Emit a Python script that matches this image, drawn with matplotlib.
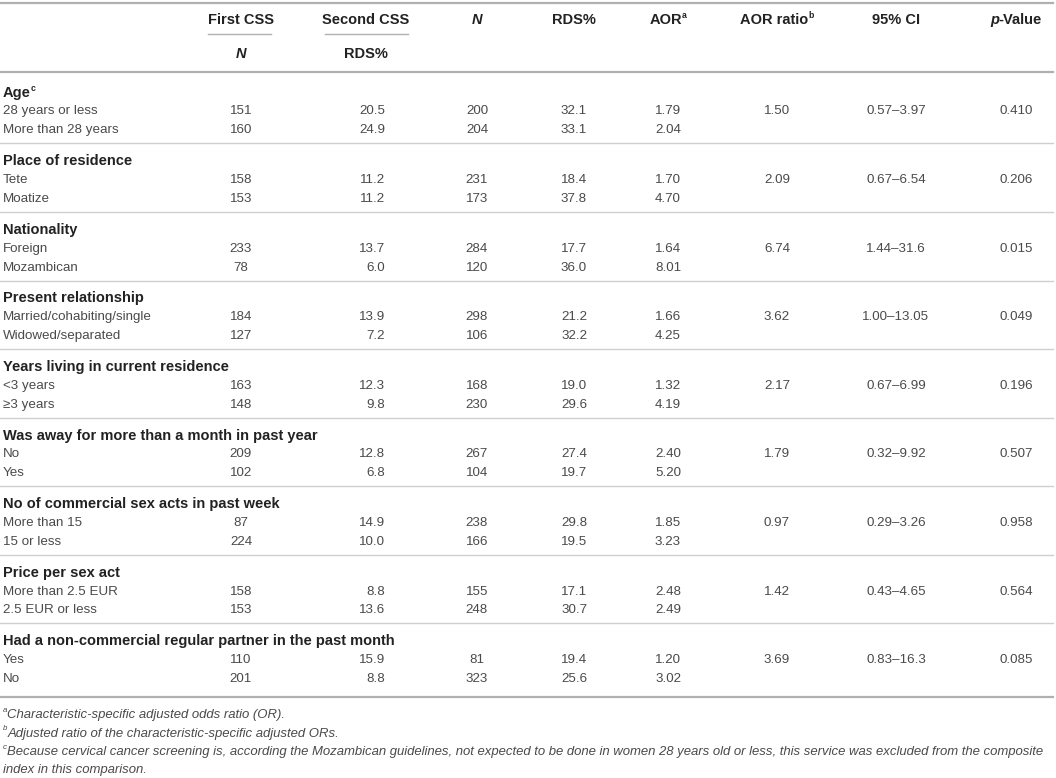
import matplotlib
matplotlib.use("Agg")
import matplotlib.pyplot as plt

# ---------------- data ----------------
groups = [
    "Age", "Place of residence", "Nationality", "Present relationship",
    "Years living in current residence",
    "Was away for more than a month in past year",
    "No of commercial sex acts in past week", "Price per sex act",
    "Had a non-commercial regular partner in the past month",
]
group_sup = ["c", "", "", "", "", "", "", "", ""]
row_labels = [
    ["28 years or less", "More than 28 years"],
    ["Tete", "Moatize"],
    ["Foreign", "Mozambican"],
    ["Married/cohabiting/single", "Widowed/separated"],
    ["<3 years", "\u22653 years"],
    ["No", "Yes"],
    ["More than 15", "15 or less"],
    ["More than 2.5 EUR", "2.5 EUR or less"],
    ["Yes", "No"],
]
first_n = [[151, 160], [158, 153], [233, 78], [184, 127], [163, 148],
           [209, 102], [87, 224], [158, 153], [110, 201]]
first_rds = [["20.5", "24.9"], ["11.2", "11.2"], ["13.7", "6.0"], ["13.9", "7.2"],
             ["12.3", "9.8"], ["12.8", "6.8"], ["14.9", "10.0"], ["8.8", "13.6"],
             ["15.9", "8.8"]]
second_n = [[200, 204], [231, 173], [284, 120], [298, 106], [168, 230],
            [267, 104], [238, 166], [155, 248], [81, 323]]
second_rds = [["32.1", "33.1"], ["18.4", "37.8"], ["17.7", "36.0"], ["21.2", "32.2"],
              ["19.0", "29.6"], ["27.4", "19.7"], ["29.8", "19.5"], ["17.1", "30.7"],
              ["19.4", "25.6"]]
aor = [["1.79", "2.04"], ["1.70", "4.70"], ["1.64", "8.01"], ["1.66", "4.25"],
       ["1.32", "4.19"], ["2.40", "5.20"], ["1.85", "3.23"], ["2.48", "2.49"],
       ["1.20", "3.02"]]
aor_ratio = ["1.50", "2.09", "6.74", "3.62", "2.17", "1.79", "0.97", "1.42", "3.69"]
ci95 = ["0.57\u20133.97", "0.67\u20136.54", "1.44\u201331.6", "1.00\u201313.05",
        "0.67\u20136.99", "0.32\u20139.92", "0.29\u20133.26", "0.43\u20134.65",
        "0.83\u201316.3"]
pvals = ["0.410", "0.206", "0.015", "0.049", "0.196", "0.507", "0.958", "0.564", "0.085"]
footnotes = [
    ("a", "Characteristic-specific adjusted odds ratio (OR)."),
    ("b", "Adjusted ratio of the characteristic-specific adjusted ORs."),
    ("c", "Because cervical cancer screening is, according the Mozambican guidelines, "
          "not expected to be done in women 28 years old or less, this service was excluded from the composite"),
    ("", "index in this comparison."),
]

# ---------------- layout ----------------
W, H = 1056, 778
FONT = "Liberation Sans"
FS = 9.6
FS_BOLD = 10.55
FS_NOTE = 9.45
BODY = "#4a4a4a"
HEAD = "#222222"
LINE = "#b0b0b0"

fig = plt.figure(figsize=(W / 100, H / 100), dpi=100)
ax = fig.add_axes([0, 0, 1, 1])
ax.set_xlim(0, W)
ax.set_ylim(H, 0)
ax.axis("off")
renderer = fig.canvas.get_renderer()


def rich(x, y, parts, ha="left"):
    """parts: list of (text, props)"""
    objs = []
    total = 0
    for txt, p in parts:
        base = p.get("size", FS_BOLD if p.get("weight") == "bold" else FS)
        size = base * 0.6 if p.get("sup") else base
        t = ax.text(0, y - (4.5 if p.get("sup") else 0), txt, fontsize=size,
                    family=FONT, weight=p.get("weight", "normal"),
                    style=p.get("style", "normal"), color=p.get("color", BODY),
                    va="center", ha="left")
        w = t.get_window_extent(renderer=renderer).width
        objs.append((t, w))
        total += w
    if ha == "center":
        x0 = x - total / 2
    elif ha == "right":
        x0 = x - total
    else:
        x0 = x
    for t, w in objs:
        t.set_x(x0)
        x0 += w


bold = dict(weight="bold", color=HEAD)
bolditalic = dict(weight="bold", style="italic", color=HEAD)
boldsup = dict(weight="bold", color=HEAD, sup=True)

# columns
cx_first = 241
cx_second_head = 366
rx_second = 385
cx_n = 477
cx_rds = 574
cx_aor = 668
cx_ratio = 777
cx_ci = 896
cx_p = 1016

# header
ax.plot([0, 1053], [3, 3], color=LINE, lw=1.6)
ax.plot([0, 1053], [72, 72], color=LINE, lw=1.6)
hy1, hy2 = 20, 54
rich(cx_first, hy1, [("First CSS", bold)], "center")
rich(cx_second_head, hy1, [("Second CSS", bold)], "center")
ax.plot([208, 271], [34, 34], color=LINE, lw=1.0)
ax.plot([325, 408], [34, 34], color=LINE, lw=1.0)
rich(cx_first, hy2, [("N", bolditalic)], "center")
rich(cx_second_head, hy2, [("RDS%", bold)], "center")
rich(cx_n, hy1, [("N", bolditalic)], "center")
rich(cx_rds, hy1, [("RDS%", bold)], "center")
rich(cx_aor, hy1, [("AOR", bold), ("a", boldsup)], "center")
rich(cx_ratio, hy1, [("AOR ratio", bold), ("b", boldsup)], "center")
rich(cx_ci, hy1, [("95% CI", bold)], "center")
rich(cx_p, hy1, [("p", bolditalic), ("-Value", bold)], "center")

# body
y0 = 92.5
pitch = 68.6
dy = 18.9
xl = 3
for g in range(len(groups)):
    gy = y0 + g * pitch
    parts = [(groups[g], bold)]
    if group_sup[g]:
        parts.append((group_sup[g], boldsup))
    rich(xl, gy, parts, "left")
    for r in range(2):
        ry = gy + (r + 1) * dy
        rich(xl, ry, [(row_labels[g][r], {})], "left")
        rich(cx_first, ry, [(str(first_n[g][r]), {})], "center")
        rich(rx_second, ry, [(first_rds[g][r], {})], "right")
        rich(cx_n, ry, [(str(second_n[g][r]), {})], "center")
        rich(cx_rds, ry, [(second_rds[g][r], {})], "center")
        rich(cx_aor, ry, [(aor[g][r], {})], "center")
        if r == 0:
            rich(cx_ratio, ry, [(aor_ratio[g], {})], "center")
            rich(cx_ci, ry, [(ci95[g], {})], "center")
            rich(cx_p, ry, [(pvals[g], {})], "center")
    if g < len(groups) - 1:
        ly = gy + 2 * dy + 13
        ax.plot([0, 1053], [ly, ly], color="#cfcfcf", lw=1.0)

ax.plot([0, 1053], [697, 697], color=LINE, lw=1.6)

# footnotes
fy = 715
for i, (sup, txt) in enumerate(footnotes):
    parts = []
    if sup:
        parts.append((sup, dict(style="italic", sup=True, size=FS_NOTE)))
    parts.append((txt, dict(style="italic", size=FS_NOTE)))
    rich(xl, fy + i * 18.5, parts, "left")

fig.savefig("out.png", dpi=100)
